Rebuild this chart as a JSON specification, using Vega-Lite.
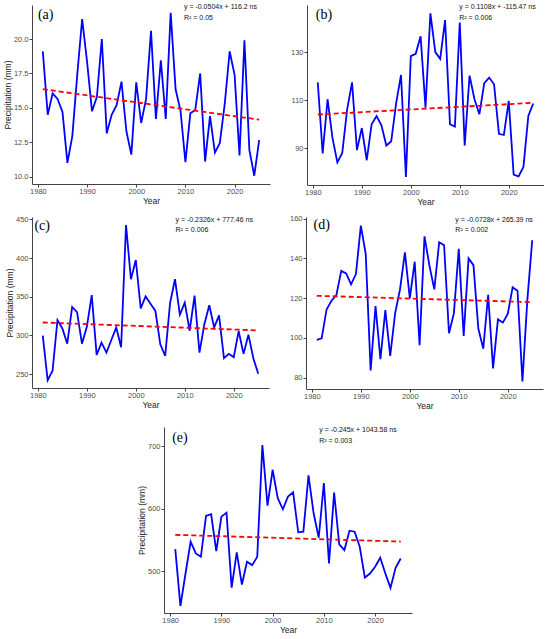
{
  "$schema": "https://vega.github.io/schema/vega-lite/v6.json",
  "background": "white",
  "padding": {"left": 3, "top": 3, "right": 0, "bottom": 0},
  "datasets": {
    "a": [
      {"year": 1981, "precip": 19.1}, {"year": 1982, "precip": 14.5}, {"year": 1983, "precip": 16.05},
      {"year": 1984, "precip": 15.65}, {"year": 1985, "precip": 14.7}, {"year": 1986, "precip": 11.0},
      {"year": 1987, "precip": 12.95}, {"year": 1988, "precip": 17.4}, {"year": 1989, "precip": 21.45},
      {"year": 1990, "precip": 18.35}, {"year": 1991, "precip": 14.75}, {"year": 1992, "precip": 15.8},
      {"year": 1993, "precip": 20.0}, {"year": 1994, "precip": 13.15}, {"year": 1995, "precip": 14.5},
      {"year": 1996, "precip": 15.2}, {"year": 1997, "precip": 16.9}, {"year": 1998, "precip": 13.3},
      {"year": 1999, "precip": 11.6}, {"year": 2000, "precip": 16.85}, {"year": 2001, "precip": 13.9},
      {"year": 2002, "precip": 15.65}, {"year": 2003, "precip": 20.6}, {"year": 2004, "precip": 14.2},
      {"year": 2005, "precip": 18.45}, {"year": 2006, "precip": 14.2}, {"year": 2007, "precip": 21.9},
      {"year": 2008, "precip": 16.35}, {"year": 2009, "precip": 14.8}, {"year": 2010, "precip": 11.05},
      {"year": 2011, "precip": 14.6}, {"year": 2012, "precip": 14.85}, {"year": 2013, "precip": 17.5},
      {"year": 2014, "precip": 11.1}, {"year": 2015, "precip": 14.4}, {"year": 2016, "precip": 11.75},
      {"year": 2017, "precip": 12.45}, {"year": 2018, "precip": 15.3}, {"year": 2019, "precip": 19.1},
      {"year": 2020, "precip": 17.4}, {"year": 2021, "precip": 11.55}, {"year": 2022, "precip": 19.9},
      {"year": 2023, "precip": 11.95}, {"year": 2024, "precip": 10.07}, {"year": 2025, "precip": 12.65}
    ],
    "b": [
      {"year": 1981, "precip": 117.4}, {"year": 1982, "precip": 87.8}, {"year": 1983, "precip": 110.4},
      {"year": 1984, "precip": 94.3}, {"year": 1985, "precip": 84.1}, {"year": 1986, "precip": 88.0},
      {"year": 1987, "precip": 106.2}, {"year": 1988, "precip": 117.4}, {"year": 1989, "precip": 89.2},
      {"year": 1990, "precip": 98.4}, {"year": 1991, "precip": 85.0}, {"year": 1992, "precip": 100.0},
      {"year": 1993, "precip": 103.4}, {"year": 1994, "precip": 99.5}, {"year": 1995, "precip": 91.1},
      {"year": 1996, "precip": 92.9}, {"year": 1997, "precip": 108.7}, {"year": 1998, "precip": 120.5},
      {"year": 1999, "precip": 78.0}, {"year": 2000, "precip": 128.3}, {"year": 2001, "precip": 129.3},
      {"year": 2002, "precip": 136.6}, {"year": 2003, "precip": 106.9}, {"year": 2004, "precip": 146.1},
      {"year": 2005, "precip": 130.0}, {"year": 2006, "precip": 127.2}, {"year": 2007, "precip": 143.3},
      {"year": 2008, "precip": 100.0}, {"year": 2009, "precip": 99.0}, {"year": 2010, "precip": 142.3},
      {"year": 2011, "precip": 91.1}, {"year": 2012, "precip": 120.2}, {"year": 2013, "precip": 110.4},
      {"year": 2014, "precip": 104.1}, {"year": 2015, "precip": 117.1}, {"year": 2016, "precip": 119.4},
      {"year": 2017, "precip": 116.6}, {"year": 2018, "precip": 96.0}, {"year": 2019, "precip": 95.5},
      {"year": 2020, "precip": 109.7}, {"year": 2021, "precip": 79.0}, {"year": 2022, "precip": 78.3},
      {"year": 2023, "precip": 82.2}, {"year": 2024, "precip": 103.4}, {"year": 2025, "precip": 108.6}
    ],
    "c": [
      {"year": 1981, "precip": 299.6}, {"year": 1982, "precip": 242.0}, {"year": 1983, "precip": 254.3},
      {"year": 1984, "precip": 319.7}, {"year": 1985, "precip": 309.0}, {"year": 1986, "precip": 289.3},
      {"year": 1987, "precip": 336.8}, {"year": 1988, "precip": 330.0}, {"year": 1989, "precip": 289.3},
      {"year": 1990, "precip": 311.0}, {"year": 1991, "precip": 352.0}, {"year": 1992, "precip": 274.8},
      {"year": 1993, "precip": 290.6}, {"year": 1994, "precip": 277.8}, {"year": 1995, "precip": 294.0},
      {"year": 1996, "precip": 310.3}, {"year": 1997, "precip": 284.6}, {"year": 1998, "precip": 442.7},
      {"year": 1999, "precip": 372.6}, {"year": 2000, "precip": 397.4}, {"year": 2001, "precip": 335.0},
      {"year": 2002, "precip": 350.4}, {"year": 2003, "precip": 341.0}, {"year": 2004, "precip": 331.6},
      {"year": 2005, "precip": 288.5}, {"year": 2006, "precip": 273.5}, {"year": 2007, "precip": 341.9},
      {"year": 2008, "precip": 372.6}, {"year": 2009, "precip": 326.9}, {"year": 2010, "precip": 342.3},
      {"year": 2011, "precip": 306.0}, {"year": 2012, "precip": 351.3}, {"year": 2013, "precip": 277.8},
      {"year": 2014, "precip": 314.5}, {"year": 2015, "precip": 338.9}, {"year": 2016, "precip": 310.3},
      {"year": 2017, "precip": 325.9}, {"year": 2018, "precip": 270.5}, {"year": 2019, "precip": 276.1},
      {"year": 2020, "precip": 271.8}, {"year": 2021, "precip": 305.6}, {"year": 2022, "precip": 276.1},
      {"year": 2023, "precip": 300.9}, {"year": 2024, "precip": 270.5}, {"year": 2025, "precip": 250.4}
    ],
    "d": [
      {"year": 1981, "precip": 99.0}, {"year": 1982, "precip": 99.8}, {"year": 1983, "precip": 114.3},
      {"year": 1984, "precip": 118.7}, {"year": 1985, "precip": 121.5}, {"year": 1986, "precip": 133.7},
      {"year": 1987, "precip": 132.4}, {"year": 1988, "precip": 126.9}, {"year": 1989, "precip": 132.1},
      {"year": 1990, "precip": 156.5}, {"year": 1991, "precip": 142.1}, {"year": 1992, "precip": 83.6},
      {"year": 1993, "precip": 116.0}, {"year": 1994, "precip": 89.3}, {"year": 1995, "precip": 114.0},
      {"year": 1996, "precip": 91.0}, {"year": 1997, "precip": 112.3}, {"year": 1998, "precip": 124.4},
      {"year": 1999, "precip": 143.0}, {"year": 2000, "precip": 119.9}, {"year": 2001, "precip": 138.3},
      {"year": 2002, "precip": 96.3}, {"year": 2003, "precip": 151.1}, {"year": 2004, "precip": 136.4},
      {"year": 2005, "precip": 124.4}, {"year": 2006, "precip": 148.1}, {"year": 2007, "precip": 146.6},
      {"year": 2008, "precip": 102.3}, {"year": 2009, "precip": 112.3}, {"year": 2010, "precip": 144.8},
      {"year": 2011, "precip": 101.0}, {"year": 2012, "precip": 140.0}, {"year": 2013, "precip": 136.6},
      {"year": 2014, "precip": 104.6}, {"year": 2015, "precip": 94.6}, {"year": 2016, "precip": 121.7},
      {"year": 2017, "precip": 84.7}, {"year": 2018, "precip": 109.3}, {"year": 2019, "precip": 107.7},
      {"year": 2020, "precip": 112.0}, {"year": 2021, "precip": 125.4}, {"year": 2022, "precip": 123.7},
      {"year": 2023, "precip": 78.1}, {"year": 2024, "precip": 119.0}, {"year": 2025, "precip": 149.1}
    ],
    "e": [
      {"year": 1981, "precip": 535.4}, {"year": 1982, "precip": 444.2}, {"year": 1983, "precip": 496.3},
      {"year": 1984, "precip": 547.2}, {"year": 1985, "precip": 528.4}, {"year": 1986, "precip": 523.0},
      {"year": 1987, "precip": 588.5}, {"year": 1988, "precip": 591.2}, {"year": 1989, "precip": 532.2},
      {"year": 1990, "precip": 587.4}, {"year": 1991, "precip": 593.8}, {"year": 1992, "precip": 473.7},
      {"year": 1993, "precip": 530.0}, {"year": 1994, "precip": 478.6}, {"year": 1995, "precip": 515.0},
      {"year": 1996, "precip": 509.7}, {"year": 1997, "precip": 523.0}, {"year": 1998, "precip": 702.0},
      {"year": 1999, "precip": 605.0}, {"year": 2000, "precip": 662.5}, {"year": 2001, "precip": 616.9},
      {"year": 2002, "precip": 599.2}, {"year": 2003, "precip": 619.6}, {"year": 2004, "precip": 626.5},
      {"year": 2005, "precip": 562.2}, {"year": 2006, "precip": 563.3}, {"year": 2007, "precip": 653.4},
      {"year": 2008, "precip": 592.8}, {"year": 2009, "precip": 553.6}, {"year": 2010, "precip": 641.0},
      {"year": 2011, "precip": 512.3}, {"year": 2012, "precip": 626.0}, {"year": 2013, "precip": 542.9},
      {"year": 2014, "precip": 533.8}, {"year": 2015, "precip": 564.9}, {"year": 2016, "precip": 563.3},
      {"year": 2017, "precip": 539.1}, {"year": 2018, "precip": 489.8}, {"year": 2019, "precip": 496.3},
      {"year": 2020, "precip": 507.0}, {"year": 2021, "precip": 521.4}, {"year": 2022, "precip": 496.3},
      {"year": 2023, "precip": 473.2}, {"year": 2024, "precip": 505.4}, {"year": 2025, "precip": 520.4}
    ],
    "trend": [
      {"panel": "a", "year": 1981, "precip": 16.36}, {"panel": "a", "year": 2025, "precip": 14.14},
      {"panel": "b", "year": 1981, "precip": 104.03}, {"panel": "b", "year": 2025, "precip": 108.9},
      {"panel": "c", "year": 1981, "precip": 316.68}, {"panel": "c", "year": 2025, "precip": 306.44},
      {"panel": "d", "year": 1981, "precip": 121.17}, {"panel": "d", "year": 2025, "precip": 117.97},
      {"panel": "e", "year": 1981, "precip": 558.23}, {"panel": "e", "year": 2025, "precip": 547.45}
    ]
  },
  "vconcat": [
    {
      "vconcat": [
        {
          "hconcat": [
            {
              "width": 238, "height": 179,
              "layer": [
                {
                  "data": {"name": "a"},
                  "mark": {"type": "line", "color": "#0000FF", "strokeWidth": 1.8},
                  "encoding": {
                    "x": {"field": "year", "type": "quantitative", "title": "Year",
                          "scale": {"domain": [1978.8, 2027.2], "nice": false, "zero": false},
                          "axis": {"values": [1980, 1990, 2000, 2010, 2020], "format": "d"}},
                    "y": {"field": "precip", "type": "quantitative", "title": "Precipitation (mm)",
                          "scale": {"domain": [9.47, 22.47], "nice": false, "zero": false},
                          "axis": {"values": [10, 12.5, 15, 17.5, 20], "format": ".1f"}}
                  }
                },
                {
                  "data": {"name": "trend"},
                  "transform": [{"filter": "datum.panel == 'a'"}],
                  "mark": {"type": "line", "color": "#FF0000", "strokeWidth": 1.8, "strokeDash": [5, 3]},
                  "encoding": {"x": {"field": "year", "type": "quantitative"}, "y": {"field": "precip", "type": "quantitative"}}
                },
                {
                  "data": {"values": [{}]},
                  "mark": {"type": "text", "text": ["y = -0.0504x + 116.2 ns", "R² = 0.05"], "align": "left", "baseline": "top", "fontSize": 7, "lineHeight": 10.5, "font": "Liberation Sans", "color": "#111"},
                  "encoding": {"x": {"datum": 2009.7, "type": "quantitative"}, "y": {"datum": 22.58, "type": "quantitative"}}
                },
                {
                  "data": {"values": [{}]},
                  "mark": {"type": "text", "text": "(a)", "align": "left", "baseline": "middle", "fontSize": 14, "font": "Liberation Serif", "color": "#000"},
                  "encoding": {"x": {"datum": 1980.0, "type": "quantitative"}, "y": {"datum": 21.74, "type": "quantitative"}}
                }
              ]
            },
            {
              "width": 237, "height": 180,
              "layer": [
                {
                  "data": {"name": "b"},
                  "mark": {"type": "line", "color": "#0000FF", "strokeWidth": 1.8},
                  "encoding": {
                    "x": {"field": "year", "type": "quantitative", "title": "Year",
                          "scale": {"domain": [1978.8, 2027.2], "nice": false, "zero": false},
                          "axis": {"values": [1980, 1990, 2000, 2010, 2020], "format": "d"}},
                    "y": {"field": "precip", "type": "quantitative", "title": null,
                          "scale": {"domain": [74.7, 149.6], "nice": false, "zero": false},
                          "axis": {"values": [90, 110, 130]}}
                  }
                },
                {
                  "data": {"name": "trend"},
                  "transform": [{"filter": "datum.panel == 'b'"}],
                  "mark": {"type": "line", "color": "#FF0000", "strokeWidth": 1.8, "strokeDash": [5, 3]},
                  "encoding": {"x": {"field": "year", "type": "quantitative"}, "y": {"field": "precip", "type": "quantitative"}}
                },
                {
                  "data": {"values": [{}]},
                  "mark": {"type": "text", "text": ["y = 0.1108x + -115.47 ns", "R² = 0.006"], "align": "left", "baseline": "top", "fontSize": 7, "lineHeight": 10.5, "font": "Liberation Sans", "color": "#111"},
                  "encoding": {"x": {"datum": 2009.9, "type": "quantitative"}, "y": {"datum": 150.4, "type": "quantitative"}}
                },
                {
                  "data": {"values": [{}]},
                  "mark": {"type": "text", "text": "(b)", "align": "left", "baseline": "middle", "fontSize": 14, "font": "Liberation Serif", "color": "#000"},
                  "encoding": {"x": {"datum": 1980.6, "type": "quantitative"}, "y": {"datum": 145.4, "type": "quantitative"}}
                }
              ]
            }
          ],
          "spacing": 20
        },
        {
          "hconcat": [
            {
              "width": 237, "height": 171,
              "layer": [
                {
                  "data": {"name": "c"},
                  "mark": {"type": "line", "color": "#0000FF", "strokeWidth": 1.8},
                  "encoding": {
                    "x": {"field": "year", "type": "quantitative", "title": "Year",
                          "scale": {"domain": [1978.8, 2027.2], "nice": false, "zero": false},
                          "axis": {"values": [1980, 1990, 2000, 2010, 2020], "format": "d"}},
                    "y": {"field": "precip", "type": "quantitative", "title": "Precipitation (mm)",
                          "scale": {"domain": [232, 453], "nice": false, "zero": false},
                          "axis": {"values": [250, 300, 350, 400, 450]}}
                  }
                },
                {
                  "data": {"name": "trend"},
                  "transform": [{"filter": "datum.panel == 'c'"}],
                  "mark": {"type": "line", "color": "#FF0000", "strokeWidth": 1.8, "strokeDash": [5, 3]},
                  "encoding": {"x": {"field": "year", "type": "quantitative"}, "y": {"field": "precip", "type": "quantitative"}}
                },
                {
                  "data": {"values": [{}]},
                  "mark": {"type": "text", "text": ["y = -0.2326x + 777.46 ns", "R² = 0.006"], "align": "left", "baseline": "top", "fontSize": 7, "lineHeight": 10.5, "font": "Liberation Sans", "color": "#111"},
                  "encoding": {"x": {"datum": 2008.1, "type": "quantitative"}, "y": {"datum": 454.3, "type": "quantitative"}}
                },
                {
                  "data": {"values": [{}]},
                  "mark": {"type": "text", "text": "(c)", "align": "left", "baseline": "middle", "fontSize": 14, "font": "Liberation Serif", "color": "#000"},
                  "encoding": {"x": {"datum": 1979.3, "type": "quantitative"}, "y": {"datum": 441.4, "type": "quantitative"}}
                }
              ]
            },
            {
              "width": 237, "height": 172,
              "layer": [
                {
                  "data": {"name": "d"},
                  "mark": {"type": "line", "color": "#0000FF", "strokeWidth": 1.8},
                  "encoding": {
                    "x": {"field": "year", "type": "quantitative", "title": "Year",
                          "scale": {"domain": [1978.8, 2027.2], "nice": false, "zero": false},
                          "axis": {"values": [1980, 1990, 2000, 2010, 2020], "format": "d"}},
                    "y": {"field": "precip", "type": "quantitative", "title": null,
                          "scale": {"domain": [74.3, 160.8], "nice": false, "zero": false},
                          "axis": {"values": [80, 100, 120, 140, 160]}}
                  }
                },
                {
                  "data": {"name": "trend"},
                  "transform": [{"filter": "datum.panel == 'd'"}],
                  "mark": {"type": "line", "color": "#FF0000", "strokeWidth": 1.8, "strokeDash": [5, 3]},
                  "encoding": {"x": {"field": "year", "type": "quantitative"}, "y": {"field": "precip", "type": "quantitative"}}
                },
                {
                  "data": {"values": [{}]},
                  "mark": {"type": "text", "text": ["y = -0.0728x + 265.39 ns", "R² = 0.002"], "align": "left", "baseline": "top", "fontSize": 7, "lineHeight": 10.5, "font": "Liberation Sans", "color": "#111"},
                  "encoding": {"x": {"datum": 2009.3, "type": "quantitative"}, "y": {"datum": 161.5, "type": "quantitative"}}
                },
                {
                  "data": {"values": [{}]},
                  "mark": {"type": "text", "text": "(d)", "align": "left", "baseline": "middle", "fontSize": 14, "font": "Liberation Serif", "color": "#000"},
                  "encoding": {"x": {"datum": 1980.35, "type": "quantitative"}, "y": {"datum": 156.6, "type": "quantitative"}}
                }
              ]
            }
          ],
          "spacing": 20
        }
      ],
      "spacing": 8
    },
    {
      "width": 248, "height": 186,
      "layer": [
        {
          "data": {"name": "e"},
          "mark": {"type": "line", "color": "#0000FF", "strokeWidth": 1.8},
          "encoding": {
            "x": {"field": "year", "type": "quantitative", "title": "Year",
                  "scale": {"domain": [1978.8, 2027.2], "nice": false, "zero": false},
                  "axis": {"values": [1980, 1990, 2000, 2010, 2020], "format": "d"}},
            "y": {"field": "precip", "type": "quantitative", "title": "Precipitation (mm)",
                  "scale": {"domain": [433, 731], "nice": false, "zero": false},
                  "axis": {"values": [500, 600, 700]}}
          }
        },
        {
          "data": {"name": "trend"},
          "transform": [{"filter": "datum.panel == 'e'"}],
          "mark": {"type": "line", "color": "#FF0000", "strokeWidth": 1.8, "strokeDash": [5, 3]},
          "encoding": {"x": {"field": "year", "type": "quantitative"}, "y": {"field": "precip", "type": "quantitative"}}
        },
        {
          "data": {"values": [{}]},
          "mark": {"type": "text", "text": ["y = -0.245x + 1043.58 ns", "R² = 0.003"], "align": "left", "baseline": "top", "fontSize": 7, "lineHeight": 10.5, "font": "Liberation Sans", "color": "#111"},
          "encoding": {"x": {"datum": 2009.1, "type": "quantitative"}, "y": {"datum": 732, "type": "quantitative"}}
        },
        {
          "data": {"values": [{}]},
          "mark": {"type": "text", "text": "(e)", "align": "left", "baseline": "middle", "fontSize": 14, "font": "Liberation Serif", "color": "#000"},
          "encoding": {"x": {"datum": 1980.4, "type": "quantitative"}, "y": {"datum": 714, "type": "quantitative"}}
        }
      ]
    }
  ],
  "spacing": 16,
  "center": true,
  "config": {
    "view": {"stroke": null},
    "axis": {
      "grid": false,
      "domainColor": "#444444",
      "domainWidth": 1,
      "tickColor": "#444444",
      "tickSize": 3,
      "labelFont": "Liberation Sans",
      "labelFontSize": 7.5,
      "labelColor": "#4D4D4D",
      "labelPadding": 1,
      "titleFont": "Liberation Sans",
      "titleFontSize": 8.5,
      "titleFontWeight": "normal",
      "titleColor": "#222222",
      "titlePadding": 1
    },
    "axisX": {"labelFlush": false, "labelPadding": 0.5}
  }
}
